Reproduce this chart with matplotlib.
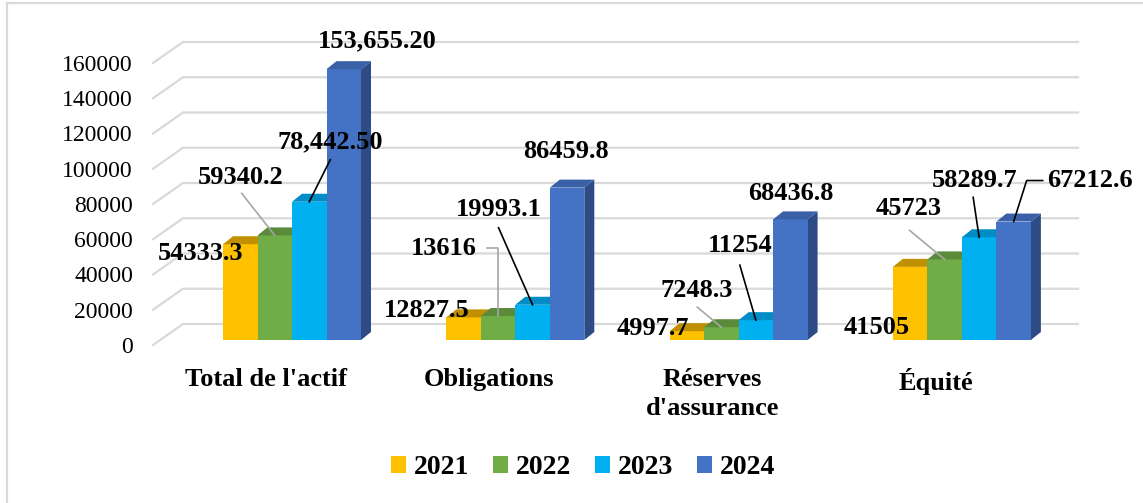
import matplotlib
matplotlib.use("Agg")
import matplotlib.pyplot as plt
from matplotlib.patches import Polygon, Rectangle, Patch
from matplotlib.lines import Line2D

# ---------------- data ----------------
categories = ["Total de l'actif", "Obligations", "Réserves\nd'assurance", "Équité"]
years = ["2021", "2022", "2023", "2024"]
v2021 = [54333.3, 12827.5, 4997.7, 41505]
v2022 = [59340.2, 13616, 7248.3, 45723]
v2023 = [78442.5, 19993.1, 11254, 58289.7]
v2024 = [153655.2, 86459.8, 68436.8, 67212.6]
lbl2021 = ["54333.3", "12827.5", "4997.7", "41505"]
lbl2022 = ["59340.2", "13616", "7248.3", "45723"]
lbl2023 = ["78,442.50", "19993.1", "11254", "58289.7"]
lbl2024 = ["153,655.20", "86459.8", "68436.8", "67212.6"]
yticks = [0, 20000, 40000, 60000, 80000, 100000, 120000, 140000, 160000]

series = [v2021, v2022, v2023, v2024]
labels = [lbl2021, lbl2022, lbl2023, lbl2024]

# ---------------- style ----------------
front_cols = ["#FFC000", "#70AD47", "#00B0F0", "#4472C4"]
top_cols = ["#C09000", "#5A8A3A", "#008CC4", "#3A60A8"]
side_cols = ["#B08400", "#4E7A32", "#0078A8", "#2E4B85"]
leader_cols = ["#A6A6A6", "#A6A6A6", "#000000", "#000000"]
grid_col = "#D9D9D9"

W, H = 1143, 503
fig = plt.figure(figsize=(W / 100, H / 100), dpi=100)
fig.patch.set_facecolor("white")

# front plane of the 3D box, in pixels
left_px, right_px = 153, 1048
bottom_img, top_img = 345, 63
group_px = 223.3          # pixels per category
g0_px = 285               # pixel x of first category on front plane
ax = fig.add_axes([left_px / W, (H - bottom_img) / H,
                   (right_px - left_px) / W, (bottom_img - top_img) / H])
ymax = 160000
ax.set_xlim((left_px - g0_px) / group_px, (right_px - g0_px) / group_px)
ax.set_ylim(0, ymax)
for s in ax.spines.values():
    s.set_visible(False)
ax.patch.set_alpha(0)

py = ymax / (bottom_img - top_img)   # data units per pixel (y)
px = 1.0 / group_px                  # data units per pixel (x)

serif = "Liberation Serif"

# axis ticks
ax.set_xticks([])
ax.set_yticks(yticks)
ax.set_yticklabels([str(t) for t in yticks], fontfamily=serif, fontsize=17)
ax.tick_params(axis="y", length=0, pad=14.4)

# gridlines: back wall + left side wall
xl, xr = ax.get_xlim()
bx, by = 30 * px, 21 * py
for t in yticks:
    ax.add_line(Line2D([xl, xl + bx, xr + bx], [t, t + by, t + by],
                       color=grid_col, lw=1.6, clip_on=False, zorder=1))

# bars
bw = 34.5 * px
ox, oy = 7 * px, 5 * py
dx, dy = 10 * px, 8 * py
anchors = [[None] * 4 for _ in range(4)]
for g in range(len(categories)):
    for i in range(4):
        v = series[i][g]
        x0 = g + (i - 2) * bw + ox
        x1 = x0 + bw
        y0 = oy
        y1 = v + oy
        side = Polygon([(x1, y0), (x1 + dx, y0 + dy), (x1 + dx, y1 + dy), (x1, y1)],
                       closed=True, facecolor=side_cols[i], edgecolor="none",
                       clip_on=False, zorder=3)
        front = Rectangle((x0, y0), bw, v, facecolor=front_cols[i],
                          edgecolor="none", clip_on=False, zorder=3)
        top = Polygon([(x0, y1), (x1, y1), (x1 + dx, y1 + dy), (x0 + dx, y1 + dy)],
                      closed=True, facecolor=top_cols[i], edgecolor="none",
                      clip_on=False, zorder=3)
        ax.add_patch(side)
        ax.add_patch(front)
        ax.add_patch(top)
        anchors[i][g] = ((x0 + x1) / 2, y1)

# data labels: offset of label center from bar anchor (pixels, right / up)
label_off = [
    [(-40, -9), (-37, 7), (-34, 3), (-33, -61)],      # 2021
    [(-34, 58), (-54, 68), (-25, 37), (-36, 51)],      # 2022
    [(21, 60), (-34, 95), (-16, 75), (-5, 57)],        # 2023
    [(33, 28), (-1, 36), (0, 26), (76, 41)],           # 2024
]
# leader lines: list of points (pixels relative to label centre) before the anchor
leaders = [
    [None, None, None, None],
    [[(1, -16)], [(43, 0), ("ax", 0)], [(1, -17)], [(1, -22)]],
    [[(0, -18)], [(0, -18)], [(0, -20)], [(-1, -17)]],
    [None, None, None, [(-47, 0), (-63, 0)]],
]
for i in range(4):
    for g in range(4):
        axx, axy = anchors[i][g]
        ddx, ddy = label_off[i][g]
        cx, cy = axx + ddx * px, axy + ddy * py
        ax.text(cx, cy, labels[i][g], ha="center", va="center",
                fontfamily=serif, fontweight="bold", fontsize=19,
                color="black", zorder=10, clip_on=False)
        spec = leaders[i][g]
        if spec:
            xs, ys = [], []
            for (lx, ly) in spec:
                xs.append(axx if lx == "ax" else cx + lx * px)
                ys.append(cy + ly * py)
            xs.append(axx)
            ys.append(axy)
            ax.add_line(Line2D(xs, ys, color=leader_cols[i], lw=1.2,
                               clip_on=False, zorder=9))

# category labels
for g, c in enumerate(categories):
    ax.text(g - 19 * px, -23 * py, c, ha="center", va="top",
            fontfamily=serif, fontweight="bold", fontsize=19,
            linespacing=1.32, clip_on=False)

# legend
handles = [Patch(facecolor=front_cols[i], edgecolor="none", label=years[i])
           for i in range(4)]
fig.legend(handles=handles, loc="center", bbox_to_anchor=(583 / W, 35 / H),
           ncol=4, frameon=False, handlelength=0.55, handleheight=0.55,
           handletextpad=0.28, columnspacing=0.85,
           prop={"family": serif, "weight": "bold", "size": 20})

# chart frame (top and left edge visible)
fig.add_artist(Line2D([6.5 / W, 1], [1 - 3 / H, 1 - 3 / H], transform=fig.transFigure,
                      color=grid_col, lw=1.6))
fig.add_artist(Line2D([6.5 / W, 6.5 / W], [0, 1 - 3 / H], transform=fig.transFigure,
                      color=grid_col, lw=1.6))

fig.savefig("out.png", dpi=100, facecolor="white")
